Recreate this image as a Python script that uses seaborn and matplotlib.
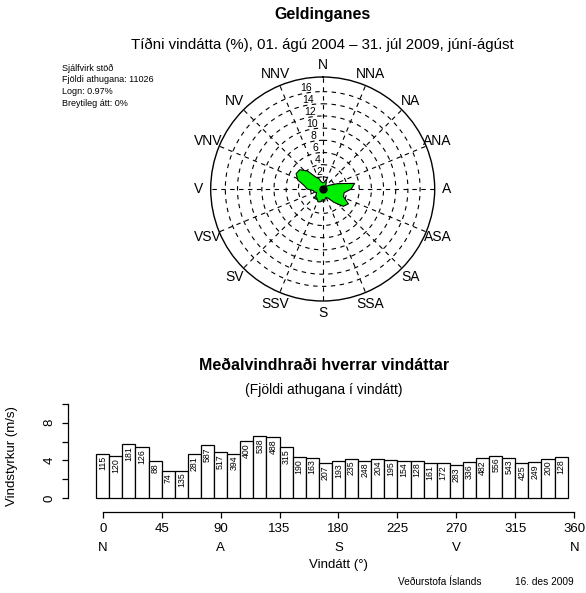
import numpy as np
import pandas as pd
import matplotlib
matplotlib.use("Agg")
import matplotlib.pyplot as plt
import seaborn as sns

# ---------------- data ----------------
directions = list(range(0, 360, 10))
counts = [115, 120, 181, 126, 88, 74, 135, 281, 587, 517, 394, 400, 538, 488,
          315, 190, 163, 207, 193, 235, 248, 204, 195, 154, 128, 161, 172, 283,
          336, 482, 556, 543, 425, 249, 200, 128]
speeds = [4.69, 4.48, 5.71, 5.39, 3.91, 2.86, 2.92, 4.69, 5.61, 4.87, 4.72, 6.03,
          6.56, 6.45, 5.39, 4.34, 4.30, 3.70, 3.95, 4.19, 3.98, 4.16, 4.09, 3.98,
          3.98, 3.70, 3.70, 3.49, 3.84, 4.23, 4.51, 4.30, 3.70, 3.84, 4.16, 4.37]
total_obs = 11026
compass_labels = ["N", "NNA", "NA", "ANA", "A", "ASA", "SA", "SSA",
                  "S", "SSV", "SV", "VSV", "V", "VNV", "NV", "NNV"]
ring_values = [2, 4, 6, 8, 10, 12, 14, 16]
xtick_values = [0, 45, 90, 135, 180, 225, 270, 315, 360]
xtick_dir_values = [0, 90, 180, 270, 360]
xtick_dir_labels = ["N", "A", "S", "V", "N"]
ytick_values = [0, 2, 4, 6, 8, 10]
ytick_labels = ["0", "", "4", "", "8", ""]
info_lines = ["Sjálfvirk stöð", "Fjöldi athugana: 11026", "Logn: 0.97%", "Breytileg átt: 0%"]

percent = [c / total_obs * 100 for c in counts]

# ---------------- style ----------------
sns.set_theme(style="white")
plt.rcParams["font.family"] = ["Liberation Sans", "DejaVu Sans"]
plt.rcParams["axes.edgecolor"] = "black"
plt.rcParams["xtick.color"] = "black"
plt.rcParams["ytick.color"] = "black"
plt.rcParams["text.color"] = "black"
plt.rcParams["axes.labelcolor"] = "black"

W, H = 586, 593
fig = plt.figure(figsize=(W / 100, H / 100), dpi=100)

def fx(px):
    return px / W

def fy(py):
    return 1 - py / H

# ---------------- titles ----------------
fig.text(fx(322.5), fy(15), "Geldinganes", ha="center", va="center",
         fontsize=11.5, fontweight="bold")
fig.text(fx(322.5), fy(45), "Tíðni vindátta (%), 01. ágú 2004 – 31. júl 2009, júní-ágúst",
         ha="center", va="center", fontsize=10.8)
for i, line in enumerate(info_lines):
    fig.text(fx(62), fy(68 + 12 * i), line, ha="left", va="center", fontsize=6.5)

# ---------------- wind rose ----------------
cx, cy, R = 322.7, 189.0, 112.0
rmax = 18.4
pax = fig.add_axes([fx(cx - R), fy(cy + R), 2 * R / W, 2 * R / H], projection="polar")
pax.set_theta_zero_location("N")
pax.set_theta_direction(-1)
pax.set_ylim(0, rmax)
pax.grid(False)
pax.set_xticks([])
pax.set_yticks([])
pax.spines["polar"].set_color("black")
pax.spines["polar"].set_linewidth(1.0)
pax.set_facecolor("white")

full = np.linspace(0, 2 * np.pi, 400)
dash = (0, (4, 4))
for rv in ring_values:
    pax.plot(full, np.full_like(full, rv), color="black", lw=0.8, linestyle=dash, zorder=1)
for k in range(16):
    a = np.deg2rad(k * 22.5)
    pax.plot([a, a], [0, rmax], color="black", lw=0.8, linestyle=dash, zorder=1)

theta = np.deg2rad(directions + [directions[0]])
rr = percent + [percent[0]]
pax.fill(theta, rr, facecolor="#00ee00", edgecolor="black", lw=0.8, zorder=3)
pax.plot([0], [0], "o", color="black", markersize=5, zorder=4)

for k, lab in enumerate(compass_labels):
    pax.text(np.deg2rad(k * 22.5), 20.4, lab, ha="center", va="center",
             fontsize=10, clip_on=False)
for rv in ring_values:
    pax.text(np.deg2rad(-9.5), rv + 0.9, str(rv), ha="center", va="center",
             fontsize=7.5, zorder=2)

# ---------------- bar chart ----------------
left_px, right_px, top_px, bot_px = 68, 580, 400, 512
bax = fig.add_axes([fx(left_px), fy(bot_px), (right_px - left_px) / W, (bot_px - top_px) / H])
df = pd.DataFrame({"dir": directions, "speed": speeds, "n": counts})
sns.barplot(data=df, x="dir", y="speed", native_scale=True, errorbar=None,
            color="white", saturation=1, edgecolor="black", linewidth=0.9,
            width=1, ax=bax)
for d, s, c in zip(directions, speeds, counts):
    bax.text(d, s - 0.2, str(c), rotation=90, ha="center", va="top", fontsize=6.3)

bax.set_xlim(-26.5, 364.4)
bax.set_ylim(-1.45, 10.4)
for sp in ["top", "right"]:
    bax.spines[sp].set_visible(False)
bax.spines["left"].set_bounds(0, 10)
bax.spines["bottom"].set_bounds(0, 360)
bax.spines["left"].set_linewidth(0.9)
bax.spines["bottom"].set_linewidth(0.9)
bax.set_xticks(xtick_values)
bax.set_xticklabels([str(v) for v in xtick_values], fontsize=9.5)
bax.set_yticks(ytick_values)
bax.set_yticklabels(ytick_labels, fontsize=9.5, rotation=90, va="center")
bax.tick_params(axis="both", direction="out", length=4.5, width=0.9, bottom=True, left=True)
bax.tick_params(axis="x", pad=3.5)
bax.tick_params(axis="y", pad=4.5)
bax.set_xlabel("")
bax.set_ylabel("Vindstyrkur (m/s)", fontsize=9.5)
bax.yaxis.set_label_coords(-0.097, 0.5)
trans = bax.get_xaxis_transform()
for v, lab in zip(xtick_dir_values, xtick_dir_labels):
    bax.text(v, (bot_px - 548) / (bot_px - top_px), lab, transform=trans,
             ha="center", va="center", fontsize=9.5, clip_on=False)
bax.text(180, (bot_px - 565) / (bot_px - top_px), "Vindátt (°)", transform=trans,
         ha="center", va="center", fontsize=9.5, clip_on=False)

fig.text(fx(324), fy(366), "Meðalvindhraði hverrar vindáttar", ha="center", va="center",
         fontsize=11.5, fontweight="bold")
fig.text(fx(324), fy(390), "(Fjöldi athugana í vindátt)", ha="center", va="center",
         fontsize=10)
fig.text(fx(398), fy(582), "Veðurstofa Íslands", ha="left", va="center", fontsize=7.3)
fig.text(fx(515), fy(582), "16. des 2009", ha="left", va="center", fontsize=7.3)

fig.savefig("out.png", dpi=100)
